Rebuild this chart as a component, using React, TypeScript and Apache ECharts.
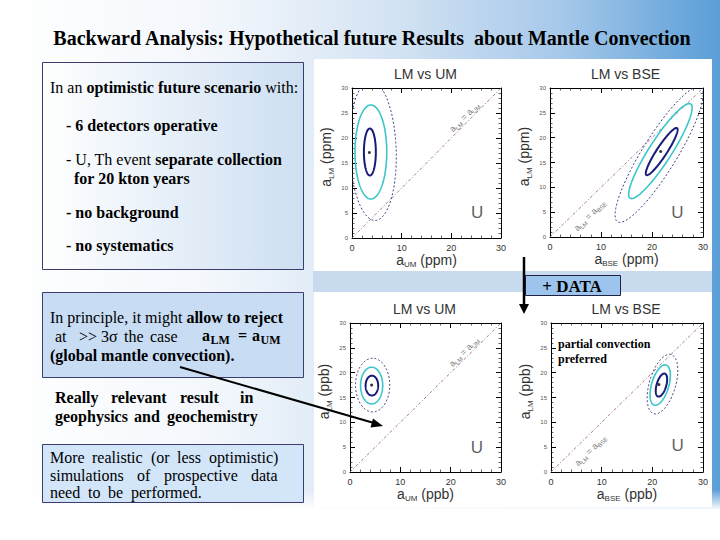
import React, { useEffect, useRef } from "react";
import * as echarts from "echarts";

// ---------- data ----------
const plotTitles = ["LM vs UM", "LM vs BSE", "LM vs UM", "LM vs BSE"];
const xSubscripts = ["UM", "BSE", "UM", "BSE"];
const units = ["ppm", "ppm", "ppb", "ppb"];
const axisMin = 0;
const axisMax = 30;
const xInterval = 10;
const yInterval = 5;

// contours: [centerX, centerY, semiMajor, semiMinor, angleDeg]
const innerContours = [
  [3.6, 17.2, 4.7, 1.2, 90],
  [21.9, 17.2, 5.6, 1.0, 57.5],
  [4.35, 17.4, 2.0, 1.25, 90],
  [21.8, 17.5, 2.4, 0.95, 74],
];
const middleContours = [
  [3.8, 17.2, 9.4, 3.2, 90],
  [21.65, 17.3, 11.2, 2.2, 58],
  [4.3, 17.4, 3.7, 2.2, 90],
  [21.55, 17.5, 4.2, 1.7, 74],
];
const outerContours = [
  [4.2, 17.5, 14.0, 4.7, 92],
  [21.4, 16.6, 15.8, 3.4, 59],
  [4.5, 17.5, 5.4, 3.4, 90],
  [22.0, 17.7, 6.2, 2.6, 74],
];
const bestFitPoints = [
  [3.5, 17.1],
  [21.7, 17.2],
  [4.3, 17.5],
  [21.3, 17.6],
];
const diagonalLine = [
  [0, 0],
  [30, 30],
];
const diagonalLabelPos = [
  [22.6, 24.2],
  [7.8, 4.4],
  [22.6, 24.2],
  [7.8, 4.4],
];
const uLabelPos = [
  [25.2, 5.2],
  [25.0, 5.0],
  [25.2, 5.0],
  [25.0, 5.3],
];

const grids = [
  { left: 352, top: 88, width: 149, height: 150 },
  { left: 550, top: 88, width: 153, height: 149 },
  { left: 350, top: 323, width: 151, height: 149 },
  { left: 551, top: 323, width: 152, height: 149 },
];

const SERIF = "Liberation Serif";
const SANS = "Liberation Sans";

function ellipseRender(stroke: string, lineWidth: number, dash: number[] | null) {
  return (params: any, api: any) => {
    const cx = api.value(0);
    const cy = api.value(1);
    const a = api.value(2);
    const b = api.value(3);
    const ang = (api.value(4) * Math.PI) / 180;
    const pts: number[][] = [];
    const n = 120;
    for (let k = 0; k <= n; k++) {
      const t = (k / n) * Math.PI * 2;
      const x = cx + a * Math.cos(t) * Math.cos(ang) - b * Math.sin(t) * Math.sin(ang);
      const y = cy + a * Math.cos(t) * Math.sin(ang) + b * Math.sin(t) * Math.cos(ang);
      pts.push(api.coord([x, y]));
    }
    return {
      type: "polyline",
      shape: { points: pts },
      style: { stroke, lineWidth, lineDash: dash || undefined, fill: null },
    };
  };
}

const subRich = {
  a: { fontSize: 14, fontFamily: SANS, color: "#333", lineHeight: 18 },
  s: { fontSize: 8, fontFamily: SANS, color: "#333", lineHeight: 8, verticalAlign: "bottom" },
};

export default function App() {
  const ref = useRef<HTMLDivElement>(null);
  useEffect(() => {
    if (!ref.current) return;
    const chart = echarts.init(ref.current, null, { renderer: "svg" });

    const xAxes: any[] = [];
    const yAxes: any[] = [];
    const series: any[] = [];

    grids.forEach((g, i) => {
      const common = {
        gridIndex: i,
        type: "value",
        min: axisMin,
        max: axisMax,
        splitLine: { show: false },
        axisLine: { show: true, onZero: false, lineStyle: { color: "#000", width: 1 } },
        axisTick: { show: true, inside: true, length: 5, lineStyle: { color: "#000", width: 1 } },
        minorTick: { show: true, splitNumber: 5, length: 2.5, lineStyle: { color: "#222", width: 0.7 } },
      };
      xAxes.push({
        ...common,
        position: "bottom",
        interval: xInterval,
        axisLabel: { fontSize: 9, color: "#333", margin: 5, fontFamily: SANS },
        name: `{a|a}{s|${xSubscripts[i]}}{a| (${units[i]})}`,
        nameLocation: "middle",
        nameGap: 11,
        nameTextStyle: { rich: subRich },
      });
      xAxes.push({ ...common, position: "top", interval: xInterval, axisLabel: { show: false } });
      yAxes.push({
        ...common,
        position: "left",
        interval: yInterval,
        axisLabel: { fontSize: 6, color: "#555", margin: 4, fontFamily: SANS },
        name: `{a|a}{s|LM}{a| (${units[i]})}`,
        nameLocation: "middle",
        nameRotate: 90,
        nameGap: 17,
        nameTextStyle: { rich: subRich, padding: [0, 0, 0, 12] },
      });
      yAxes.push({ ...common, position: "right", interval: yInterval, axisLabel: { show: false } });

      const xi = 2 * i;
      const yi = 2 * i;
      series.push({
        type: "custom",
        xAxisIndex: xi,
        yAxisIndex: yi,
        clip: true,
        data: [outerContours[i]],
        encode: { x: 0, y: 1 },
        renderItem: ellipseRender("#2a2a70", 0.9, [2, 2]),
        z: 3,
      });
      series.push({
        type: "custom",
        xAxisIndex: xi,
        yAxisIndex: yi,
        clip: true,
        data: [middleContours[i]],
        encode: { x: 0, y: 1 },
        renderItem: ellipseRender("#3cc6cc", 1.6, null),
        z: 4,
      });
      series.push({
        type: "custom",
        xAxisIndex: xi,
        yAxisIndex: yi,
        clip: true,
        data: [innerContours[i]],
        encode: { x: 0, y: 1 },
        renderItem: ellipseRender("#1a1a7a", 2, null),
        z: 5,
      });
      series.push({
        type: "line",
        xAxisIndex: xi,
        yAxisIndex: yi,
        data: diagonalLine,
        symbol: "none",
        lineStyle: { color: "#a06a78", width: 0.9, type: [3, 2, 1, 2] },
        z: 2,
      });
      series.push({
        type: "scatter",
        xAxisIndex: xi,
        yAxisIndex: yi,
        data: [bestFitPoints[i]],
        symbolSize: 3,
        itemStyle: { color: "#000" },
        z: 6,
      });
      series.push({
        type: "scatter",
        xAxisIndex: xi,
        yAxisIndex: yi,
        data: [diagonalLabelPos[i]],
        symbolSize: 0,
        silent: true,
        label: {
          show: true,
          position: "inside",
          rotate: 45,
          formatter: `{a|a}{s|LM}{a| = a}{s|${xSubscripts[i]}}`,
          rich: {
            a: { fontSize: 9, fontFamily: SANS, color: "#555", lineHeight: 12 },
            s: { fontSize: 6, fontFamily: SANS, color: "#555", lineHeight: 6, verticalAlign: "bottom" },
          },
        },
      });
      series.push({
        type: "scatter",
        xAxisIndex: xi,
        yAxisIndex: yi,
        data: [uLabelPos[i]],
        symbolSize: 0,
        silent: true,
        label: {
          show: true,
          position: "inside",
          formatter: "U",
          fontSize: 17,
          fontFamily: SANS,
          color: "#333",
        },
      });
    });

    const plotTitleGraphics = grids.map((g, i) => ({
      type: "text",
      x: g.left + g.width / 2 - 1,
      y: g.top - 14,
      z: 50,
      style: {
        text: plotTitles[i],
        fontFamily: SANS,
        fontSize: 14,
        fill: "#333",
        textAlign: "center",
        textVerticalAlign: "middle",
      },
    }));

    const FS = 16;
    const txt = (x: number, y: number, text: string, bold = false, size = FS) => ({
      type: "text",
      x,
      y,
      z: 60,
      style: {
        text,
        fontFamily: SERIF,
        fontSize: size,
        fontWeight: bold ? "bold" : "normal",
        fill: "#000",
        textAlign: "left",
        textVerticalAlign: "middle",
      },
    });

    const richTxt = (x: number, y: number, text: string) => ({
      type: "text",
      x,
      y,
      z: 60,
      style: {
        text,
        fill: "#000",
        textAlign: "left",
        textVerticalAlign: "middle",
        rich: {
          n: { fontFamily: SERIF, fontSize: FS, fontWeight: "normal", color: "#000", lineHeight: 18 },
          b: { fontFamily: SERIF, fontSize: FS, fontWeight: "bold", color: "#000", lineHeight: 18 },
        },
      },
    });

    const graphic: any[] = [
      // slide background
      {
        type: "rect",
        z: -100,
        shape: { x: 0, y: 0, width: 720, height: 540 },
        style: {
          fill: new echarts.graphic.LinearGradient(0, 0, 1, 0, [
            { offset: 0, color: "#ffffff" },
            { offset: 0.3, color: "#f3f7fc" },
            { offset: 0.55, color: "#d3e3f3" },
            { offset: 0.78, color: "#a6c8ea" },
            { offset: 1, color: "#5a9ed7" },
          ]),
        },
      },
      {
        type: "rect",
        z: -99,
        shape: { x: 0, y: 490, width: 720, height: 50 },
        style: {
          fill: new echarts.graphic.LinearGradient(0, 0, 0, 1, [
            { offset: 0, color: "rgba(255,255,255,0)" },
            { offset: 0.4, color: "#ffffff" },
            { offset: 1, color: "#ffffff" },
          ]),
        },
      },
      // band between plot images
      { type: "rect", z: -98, shape: { x: 313, y: 271, width: 399, height: 21 }, style: { fill: "#c7daee" } },
      // plot image panels
      { type: "rect", z: -97, shape: { x: 314, y: 59, width: 398, height: 212 }, style: { fill: "#ffffff" } },
      { type: "rect", z: -97, shape: { x: 314, y: 292, width: 398, height: 215 }, style: { fill: "#ffffff" } },
      // title
      {
        type: "text",
        x: 372,
        y: 38,
        z: 60,
        style: {
          text: "Backward Analysis: Hypothetical future Results  about Mantle Convection",
          fontFamily: SERIF,
          fontSize: 20,
          fontWeight: "bold",
          fill: "#000",
          textAlign: "center",
          textVerticalAlign: "middle",
        },
      },
      // box 1
      {
        type: "rect",
        z: 40,
        shape: { x: 42.5, y: 62.5, width: 261, height: 207 },
        style: {
          fill: new echarts.graphic.LinearGradient(0, 0, 1, 0, [
            { offset: 0, color: "#ffffff" },
            { offset: 1, color: "#cddff2" },
          ]),
          stroke: "#3c3c6e",
          lineWidth: 1,
        },
      },
      richTxt(50, 87, "{n|In an }{b|optimistic future scenario}{n| with:}"),
      txt(66, 125, "- 6 detectors operative", true),
      richTxt(66, 159, "{n|- U, Th event }{b|separate collection}"),
      txt(74, 178, "for 20 kton years", true),
      txt(66, 212, "- no background", true),
      txt(66, 245, "- no systematics", true),
      // box 2
      {
        type: "rect",
        z: 40,
        shape: { x: 42.5, y: 292.5, width: 261, height: 85 },
        style: { fill: "#c8ddf4", stroke: "#3c3c6e", lineWidth: 1 },
      },
      richTxt(50, 317, "{n|In principle, it might }{b|allow to reject}"),
      txt(55, 336, "at"),
      txt(79, 336, ">> 3σ"),
      txt(124, 336, "the"),
      txt(150, 336, "case"),
      txt(202, 335, "a", true),
      txt(210.5, 340, "LM", true, 12),
      txt(238, 335, "=", true),
      txt(252, 335, "a", true),
      txt(260.5, 340, "UM", true, 12),
      txt(50, 355, "(global mantle convection).", true),
      // free text
      txt(55, 397, "Really", true),
      txt(111, 397, "relevant", true),
      txt(180, 397, "result", true),
      txt(240, 397, "in", true),
      txt(55, 416, "geophysics", true),
      txt(134, 416, "and", true),
      txt(167, 416, "geochemistry", true),
      // box 3
      {
        type: "rect",
        z: 40,
        shape: { x: 42.5, y: 444.5, width: 261, height: 58 },
        style: { fill: "#d3e5f8", stroke: "#3c3c6e", lineWidth: 1 },
      },
      txt(50, 457, "More"),
      txt(92, 457, "realistic"),
      txt(151, 457, "(or"),
      txt(177, 457, "less"),
      txt(209, 457, "optimistic)"),
      txt(50, 475, "simulations"),
      txt(137, 475, "of"),
      txt(164, 475, "prospective"),
      txt(251, 475, "data"),
      txt(50, 492, "need"),
      txt(88, 492, "to"),
      txt(108, 492, "be"),
      txt(131, 492, "performed."),
      // partial convection note
      txt(558, 344, "partial convection", true, 12),
      txt(558, 359, "preferred", true, 12),
      // + DATA box
      {
        type: "rect",
        z: 70,
        shape: { x: 525.5, y: 275.5, width: 95, height: 20 },
        style: { fill: "#9cc4ec", stroke: "#222244", lineWidth: 1 },
      },
      {
        type: "text",
        x: 572,
        y: 286,
        z: 71,
        style: {
          text: "+ DATA",
          fontFamily: SERIF,
          fontSize: 17,
          fontWeight: "bold",
          fill: "#000",
          textAlign: "center",
          textVerticalAlign: "middle",
        },
      },
      // vertical arrow
      { type: "line", z: 72, shape: { x1: 524, y1: 257, x2: 524, y2: 306 }, style: { stroke: "#000", lineWidth: 2.5 } },
      { type: "polygon", z: 72, shape: { points: [[519, 304], [529, 304], [524, 314]] }, style: { fill: "#000" } },
      // diagonal arrow
      { type: "line", z: 72, shape: { x1: 180, y1: 367, x2: 374, y2: 423 }, style: { stroke: "#000", lineWidth: 2 } },
      { type: "polygon", z: 72, shape: { points: [[383, 426], [370.5, 427.5], [373, 418.5]] }, style: { fill: "#000" } },
      ...plotTitleGraphics,
    ];

    chart.setOption({
      animation: false,
      grid: grids.map((g) => ({ ...g, containLabel: false })),
      xAxis: xAxes,
      yAxis: yAxes,
      series,
      graphic,
    });
    return () => chart.dispose();
  }, []);
  return <div ref={ref} style={{ position: "absolute", left: 0, top: 0, width: 720, height: 540 }} />;
}
